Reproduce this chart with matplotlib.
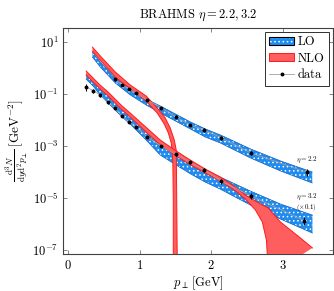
import numpy as np
import matplotlib
matplotlib.use('Agg')
import matplotlib.pyplot as plt
from matplotlib.patches import Patch
from matplotlib.lines import Line2D
from matplotlib.legend_handler import HandlerTuple

plt.rcParams['font.family'] = 'serif'
plt.rcParams['font.serif'] = ['cmr10', 'DejaVu Serif']
plt.rcParams['mathtext.fontset'] = 'cm'
plt.rcParams['axes.formatter.use_mathtext'] = True
plt.rcParams['hatch.linewidth'] = 0.6

# LO bands (eta = 2.2 and eta = 3.2 x 0.1)
lo_pt = [0.34, 0.45, 0.66, 0.87, 1.09, 1.29, 1.5, 1.71, 1.92, 2.13, 2.55, 2.97, 3.41]
lo22_hi = [4.1, 1.7, 0.41, 0.156, 0.064, 0.0345, 0.017, 8.4e-3, 4.5e-3, 2.65e-3, 7.7e-4, 2.65e-4, 1.0e-4]
lo22_lo = [2.65, 1.09, 0.265, 0.092, 0.038, 0.0186, 9.2e-3, 4.5e-3, 2.2e-3, 1.3e-3, 3.45e-4, 1.09e-4, 3.8e-5]
lo32_pt = [0.252, 0.35, 0.448, 0.559, 0.657, 0.755, 0.867, 1.091, 1.287, 1.497, 1.706, 1.916, 2.126,
           2.545, 2.965, 3.413]
lo32_hi = [0.59, 0.316, 0.170, 0.092, 0.049, 0.029, 0.0156, 3.8e-3, 1.2e-3, 5.2e-4, 2.5e-4,
           1.2e-4, 6.4e-5, 1.86e-5, 5.9e-6, 2.2e-6]
lo32_lo = [0.378, 0.203, 0.092, 0.045, 0.0243, 0.013, 7.0e-3, 1.7e-3, 4.5e-4, 1.95e-4, 8.6e-5,
           4.1e-5, 2.2e-5, 5.4e-6, 1.56e-6, 4.5e-7]

# NLO bands (upper / lower edge curves)
nlo22_pt_hi = [0.34, 0.45, 0.66, 0.87, 1.09, 1.245, 1.357, 1.427, 1.483, 1.51, 1.517, 1.524]
nlo22_hi = [6.4, 2.9, 0.70, 0.22, 0.084, 0.029, 0.012, 4.9e-3, 1.7e-3, 7.0e-4, 8.4e-6, 4.1e-8]
nlo22_pt_lo = [0.34, 0.45, 0.66, 0.87, 1.09, 1.245, 1.343, 1.399, 1.441, 1.462, 1.469, 1.469]
nlo22_lo = [4.5, 2.0, 0.45, 0.156, 0.054, 0.0186, 7.0e-3, 3.2e-3, 1.3e-3, 2.9e-4, 8.4e-6, 4.1e-8]

nlo32_pt_hi = [0.252, 0.35, 0.448, 0.559, 0.657, 0.755, 0.867, 1.091, 1.287, 1.497, 1.706, 1.916,
               2.126, 2.336, 2.476, 2.615, 2.713, 2.797, 2.965, 3.105, 3.245, 3.413]
nlo32_hi = [0.77, 0.41, 0.22, 0.119, 0.064, 0.0345, 0.0186, 5.2e-3, 1.7e-3, 6.8e-4, 2.9e-4, 1.3e-4,
            6.4e-5, 2.65e-5, 1.3e-5, 7.7e-6, 5.4e-6, 4.1e-6, 1.2e-6, 5.9e-7, 2.9e-7, 1.2e-7]
nlo32_pt_lo = [0.252, 0.35, 0.448, 0.559, 0.657, 0.755, 0.867, 1.091, 1.287, 1.497, 1.706, 1.916,
               2.126, 2.336, 2.476, 2.615, 2.713, 2.77, 2.80]
nlo32_lo = [0.54, 0.29, 0.156, 0.084, 0.045, 0.0243, 0.013, 3.4e-3, 1.1e-3, 4.4e-4, 1.9e-4, 9.2e-5,
            4.5e-5, 1.9e-5, 9.2e-6, 3.5e-6, 1.2e-6, 2.4e-7, 1e-8]

# BRAHMS data
d22_pt = [0.65, 0.75, 0.85, 0.95, 1.1, 1.3, 1.5, 1.7, 1.9, 2.13, 2.55, 3.33]
d22_y = [0.37, 0.23, 0.155, 0.112, 0.059, 0.030, 0.0135, 6.5e-3, 4.2e-3, 2.1e-3, 5.5e-4, 9.8e-5]
d22_err = [0.12, 0.1, 0.1, 0.1, 0.1, 0.1, 0.12, 0.12, 0.15, 0.15, 0.2, 0.3]
d32_pt = [0.25, 0.35, 0.45, 0.55, 0.65, 0.75, 0.85, 0.95, 1.1, 1.3, 1.5, 1.7, 1.9, 2.13, 2.55, 3.3]
d32_y = [0.19, 0.135, 0.091, 0.048, 0.030, 0.0141, 8.5e-3, 5.5e-3, 2.3e-3, 1.0e-3, 4.8e-4,
         2.4e-4, 1.2e-4, 4.5e-5, 1.23e-5, 1.35e-6]
d32_err = [0.3, 0.15, 0.12, 0.1, 0.1, 0.1, 0.1, 0.1, 0.1, 0.12, 0.12, 0.15, 0.15, 0.2, 0.25, 0.35]

blue = '#1e8cf0'
red_fill = '#ff5e5e'
red_line = '#ff1a1a'

fig = plt.figure(figsize=(3.34, 2.91), dpi=100)
ax = fig.add_axes([0.189, 0.127, 0.808, 0.777])

for pt, hi, lo in [(lo_pt, lo22_hi, lo22_lo), (lo32_pt, lo32_hi, lo32_lo)]:
    ax.fill_between(pt, lo, hi, facecolor=blue, edgecolor='white', hatch='....', linewidth=0, zorder=2)
    ax.plot(pt, hi, color='#0a5cc0', lw=0.5, zorder=2)
    ax.plot(pt, lo, color='#0a5cc0', lw=0.5, zorder=2)

for pth, hi, ptl, lo in [(nlo22_pt_hi, nlo22_hi, nlo22_pt_lo, nlo22_lo),
                         (nlo32_pt_hi, nlo32_hi, nlo32_pt_lo, nlo32_lo)]:
    ax.fill(np.r_[pth, ptl[::-1]], np.r_[hi, lo[::-1]], facecolor=red_fill, edgecolor='none', zorder=3)
    ax.plot(pth, hi, color=red_line, lw=0.7, zorder=3)
    ax.plot(ptl, lo, color=red_line, lw=0.7, zorder=3)

for pt, y, e in [(d22_pt, d22_y, d22_err), (d32_pt, d32_y, d32_err)]:
    y = np.array(y)
    e = np.array(e)
    ax.plot(pt, y, color='#a0a0a0', lw=0.6, zorder=4)
    ax.errorbar(pt, y, yerr=[y * e, y * e], fmt='o', color='black', ms=1.8, elinewidth=0.7,
                capsize=0, zorder=5)

ax.text(3.33, 3.0e-4, r'$\eta = 2.2$', fontsize=5, ha='center', va='center')
ax.text(3.33, 1.1e-5, r'$\eta = 3.2$', fontsize=5, ha='center', va='center')
ax.text(3.33, 4.3e-6, r'$(\times 0.1)$', fontsize=5, ha='center', va='center')

ax.set_yscale('log')
ax.set_xlim(-0.07, 3.7)
ax.set_ylim(7e-8, 35)
ax.set_xticks([0, 1, 2, 3])
ax.set_yticks([1e1, 1e-1, 1e-3, 1e-5, 1e-7])
ax.minorticks_off()
ax.tick_params(direction='in', top=True, right=True, length=3, width=0.5, labelsize=9, color='#555555')
for s in ax.spines.values():
    s.set_linewidth(0.8)
    s.set_color('#404040')

ax.set_title(r'BRAHMS $\eta = 2.2, 3.2$', fontsize=9, pad=7)
ax.set_xlabel(r'$p_\perp\,[\mathrm{GeV}]$', fontsize=9, labelpad=2)
ax.set_ylabel(r'$\frac{\mathrm{d}^3N}{\mathrm{d}y\mathrm{d}^2p_\perp}\;[\mathrm{GeV}^{-2}]$', fontsize=9.5,
              labelpad=1)

lo_handle = (Patch(facecolor=blue, edgecolor='white', hatch='....', linewidth=0),
             Patch(facecolor='none', edgecolor='black', linewidth=0.8))
nlo_handle = Patch(facecolor=red_fill, edgecolor=red_line, linewidth=0.7)
data_handle = Line2D([], [], color='#a0a0a0', lw=0.6, marker='o', ms=1.8, mfc='black', mec='black')
leg = ax.legend([lo_handle, nlo_handle, data_handle], ['LO', 'NLO', 'data'],
                handler_map={tuple: HandlerTuple(ndivide=1, pad=0)},
                loc='upper right', fontsize=9, fancybox=False, edgecolor='#303030', framealpha=1,
                borderaxespad=0.3, handlelength=2.0, handleheight=0.6, handletextpad=0.3,
                labelspacing=0.35, borderpad=0.35)
leg.get_frame().set_linewidth(0.7)

fig.savefig('out.png', dpi=100)
